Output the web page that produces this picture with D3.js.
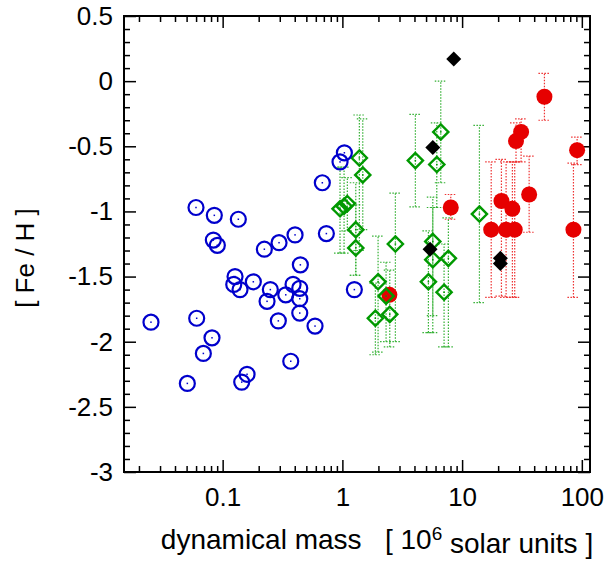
<!DOCTYPE html>
<html>
<head>
<meta charset="utf-8">
<script src="https://cdn.jsdelivr.net/npm/d3@7"></script>
<style>
  body { margin: 0; background: #fff; }
  text { font-family: "Liberation Sans", Arial, Helvetica, sans-serif; }
</style>
</head>
<body>
<div id="chart"></div>
<script>
// blue open circles (no error bars)
var blueMass = [0.0252, 0.0599, 0.0852, 0.1352, 0.0836, 0.0903, 0.1269, 0.1238, 0.1397, 0.1804,
                0.2230, 0.2958, 0.4024, 0.4457, 0.2502, 0.2349, 0.3365, 0.3873, 0.4406, 0.4406,
                0.4406, 0.2918, 0.591, 0.0607, 0.0815, 0.069, 0.3705, 0.1599, 0.1443, 0.0507,
                0.680, 0.735, 0.956, 1.039, 1.259];
var blueFeH = [-1.85, -0.97, -1.03, -1.06, -1.22, -1.26, -1.50, -1.56, -1.60, -1.54,
               -1.29, -1.24, -1.18, -1.41, -1.60, -1.69, -1.64, -1.56, -1.59, -1.67,
               -1.78, -1.84, -1.88, -1.82, -1.97, -2.09, -2.15, -2.25, -2.31, -2.32,
               -0.78, -1.17, -0.62, -0.55, -1.60];

// green open diamonds with error bars
var greenMass = [1.386, 1.480, 0.956, 1.033, 1.10, 1.294, 1.294, 1.987, 2.317, 1.886,
                 2.488, 2.771, 4.071, 6.635, 6.145, 5.69, 5.69, 7.68, 5.23, 7.07, 13.95];
var greenFeH = [-0.59, -0.72, -0.98, -0.96, -0.94, -1.14, -1.28, -1.54, -1.65, -1.82,
                -1.79, -1.25, -0.61, -0.39, -0.64, -1.23, -1.37, -1.36, -1.54, -1.62, -1.02];
var greenLo = [-1.30, -1.14, -1.32, -1.32, -1.15, -1.49, -1.49, -2.08, -2.00, -2.10,
               -2.04, -2.00, -0.965, -0.78, -0.97, -1.93, -1.80, -2.04, -1.93, -2.04, -1.70];
var greenHi = [-0.26, -0.29, -0.66, -0.66, -0.74, -0.78, -0.95, -1.19, -1.39, -1.55,
               -1.45, -0.86, -0.255, 0.0, -0.32, -0.89, -0.97, -1.05, -1.15, -1.25, -0.34];

// red filled circles with error bars
var redMass = [48.7, 31.1, 28.2, 91.3, 36.3, 21.3, 26.3, 17.5, 23.3, 27.5, 85.1, 8.04, 2.47];
var redFeH = [-0.12, -0.39, -0.46, -0.53, -0.87, -0.92, -0.98, -1.14, -1.14, -1.14, -1.14, -0.97, -1.64];
var redLo = [-0.30, -0.62, -0.62, -0.64, -1.16, -1.65, -1.66, -1.66, -1.66, -1.66, -1.66, -1.06, null];
var redHi = [0.06, -0.29, -0.32, -0.43, -0.575, -0.60, -0.62, -0.62, -0.62, -0.62, -0.63, -0.87, null];

// black filled diamonds
var blackMass = [8.52, 5.69, 5.40, 20.88, 20.88];
var blackFeH = [0.17, -0.51, -1.29, -1.36, -1.40];

var xMajor = [0.1, 1, 10, 100];
var yMajor = [0.5, 0, -0.5, -1, -1.5, -2, -2.5, -3];

var W = 606, H = 561;
var margin = { top: 16, right: 16, bottom: 89, left: 124 },
    width = W - margin.left - margin.right,
    height = H - margin.top - margin.bottom;

var svg = d3.select("#chart")
    .append("svg")
    .attr("width", W)
    .attr("height", H)
    .append("g")
    .attr("transform", "translate(" + margin.left + "," + margin.top + ")");

var x = d3.scaleLog().domain([0.015, 117]).range([0, width]);
var y = d3.scaleLinear().domain([-3, 0.5]).range([height, 0]);

var xMinor = [];
[0.01, 0.1, 1, 10].forEach(function (dec) {
    for (var k = 2; k <= 9; k++) {
        var v = dec * k;
        if (v >= 0.015 && v <= 117) xMinor.push(v);
    }
});
var yMinor = d3.range(-30, 6).map(function (d) { return d / 10; })
    .filter(function (d) { return Math.abs(d * 2 - Math.round(d * 2)) > 1e-6; });

function styleAxis(g) {
    g.select(".domain").remove();
    g.selectAll("line").attr("stroke", "#000").attr("stroke-width", 1.5);
    g.selectAll("text").attr("font-size", "26px").attr("fill", "#000")
        .attr("font-family", "Liberation Sans, Arial, sans-serif");
}

// bottom axis
svg.append("g").attr("transform", "translate(0," + height + ")")
    .call(d3.axisBottom(x).tickValues(xMajor).tickSize(-12).tickPadding(16)
        .tickFormat(function (d) { return String(d); }))
    .call(styleAxis);
svg.append("g").attr("transform", "translate(0," + height + ")")
    .call(d3.axisBottom(x).tickValues(xMinor).tickSize(-6).tickFormat(""))
    .call(styleAxis);
// top axis
svg.append("g")
    .call(d3.axisTop(x).tickValues(xMajor).tickSize(-12).tickFormat(""))
    .call(styleAxis);
svg.append("g")
    .call(d3.axisTop(x).tickValues(xMinor).tickSize(-6).tickFormat(""))
    .call(styleAxis);
// left axis
svg.append("g")
    .call(d3.axisLeft(y).tickValues(yMajor).tickSize(-12).tickPadding(11)
        .tickFormat(function (d) { return String(d); }))
    .call(styleAxis);
svg.append("g")
    .call(d3.axisLeft(y).tickValues(yMinor).tickSize(-6).tickFormat(""))
    .call(styleAxis);
// right axis
svg.append("g").attr("transform", "translate(" + width + ",0)")
    .call(d3.axisRight(y).tickValues(yMajor).tickSize(-12).tickFormat(""))
    .call(styleAxis);
svg.append("g").attr("transform", "translate(" + width + ",0)")
    .call(d3.axisRight(y).tickValues(yMinor).tickSize(-6).tickFormat(""))
    .call(styleAxis);

// frame
svg.append("rect")
    .attr("x", 0).attr("y", 0)
    .attr("width", width).attr("height", height)
    .attr("fill", "none")
    .attr("stroke", "#000")
    .attr("stroke-width", 2);

// error bars
function errorBars(mass, lo, hi, color, cls) {
    var idx = d3.range(mass.length).filter(function (i) { return lo[i] !== null; });
    var g = svg.append("g").attr("class", cls)
        .attr("stroke", color).attr("stroke-width", 1.2)
        .attr("stroke-dasharray", "1.5,1.5").attr("fill", "none");
    g.selectAll("line.v").data(idx).join("line").attr("class", "v")
        .attr("x1", function (i) { return x(mass[i]); })
        .attr("x2", function (i) { return x(mass[i]); })
        .attr("y1", function (i) { return y(lo[i]); })
        .attr("y2", function (i) { return y(hi[i]); });
    g.selectAll("line.lo").data(idx).join("line").attr("class", "lo")
        .attr("x1", function (i) { return x(mass[i]) - 6; })
        .attr("x2", function (i) { return x(mass[i]) + 6; })
        .attr("y1", function (i) { return y(lo[i]); })
        .attr("y2", function (i) { return y(lo[i]); });
    g.selectAll("line.hi").data(idx).join("line").attr("class", "hi")
        .attr("x1", function (i) { return x(mass[i]) - 6; })
        .attr("x2", function (i) { return x(mass[i]) + 6; })
        .attr("y1", function (i) { return y(hi[i]); })
        .attr("y2", function (i) { return y(hi[i]); });
}
errorBars(greenMass, greenLo, greenHi, "#33b033", "gerr");
errorBars(redMass, redLo, redHi, "#ee3333", "rerr");

var diamond = function (r) { return "M0," + (-r) + "L" + r + ",0L0," + r + "L" + (-r) + ",0Z"; };

// red filled circles
svg.append("g").selectAll("circle")
    .data(d3.range(redMass.length))
    .join("circle")
    .attr("cx", function (i) { return x(redMass[i]); })
    .attr("cy", function (i) { return y(redFeH[i]); })
    .attr("r", 8)
    .attr("fill", "#e60000");

// green open diamonds
var gd = svg.append("g").selectAll("g")
    .data(d3.range(greenMass.length))
    .join("g")
    .attr("transform", function (i) { return "translate(" + x(greenMass[i]) + "," + y(greenFeH[i]) + ")"; });
gd.append("path").attr("d", diamond(7.6))
    .attr("fill", "none").attr("stroke", "#009900").attr("stroke-width", 2.4);
gd.append("rect").attr("x", -0.75).attr("y", -0.75).attr("width", 1.5).attr("height", 1.5)
    .attr("fill", "#009900");

// blue open circles
var bc = svg.append("g").selectAll("g")
    .data(d3.range(blueMass.length))
    .join("g")
    .attr("transform", function (i) { return "translate(" + x(blueMass[i]) + "," + y(blueFeH[i]) + ")"; });
bc.append("circle").attr("r", 7.5)
    .attr("fill", "none").attr("stroke", "#0000cc").attr("stroke-width", 2.2);
bc.append("rect").attr("x", -0.75).attr("y", -0.75).attr("width", 1.5).attr("height", 1.5)
    .attr("fill", "#0000cc");

// black filled diamonds
svg.append("g").selectAll("path")
    .data(d3.range(blackMass.length))
    .join("path")
    .attr("transform", function (i) { return "translate(" + x(blackMass[i]) + "," + y(blackFeH[i]) + ")"; })
    .attr("d", diamond(7.5))
    .attr("fill", "#000");

// axis titles
svg.append("text")
    .attr("transform", "translate(" + (25 - margin.left) + "," + (258 - margin.top) + ") rotate(-90)")
    .attr("text-anchor", "middle")
    .attr("dy", "0.35em")
    .attr("font-size", "26px")
    .style("white-space", "pre")
    .text("[ Fe / H ]");

var xt = svg.append("text")
    .attr("x", 377 - margin.left)
    .attr("y", 549 - margin.top)
    .attr("text-anchor", "middle")
    .attr("font-size", "28px")
    .style("white-space", "pre");
xt.append("tspan").text("dynamical mass   [ 10");
xt.append("tspan").attr("dy", "-0.45em").attr("font-size", "19px").text("6");
xt.append("tspan").attr("dy", "0.45em").text(" solar units ]");
</script>
</body>
</html>
